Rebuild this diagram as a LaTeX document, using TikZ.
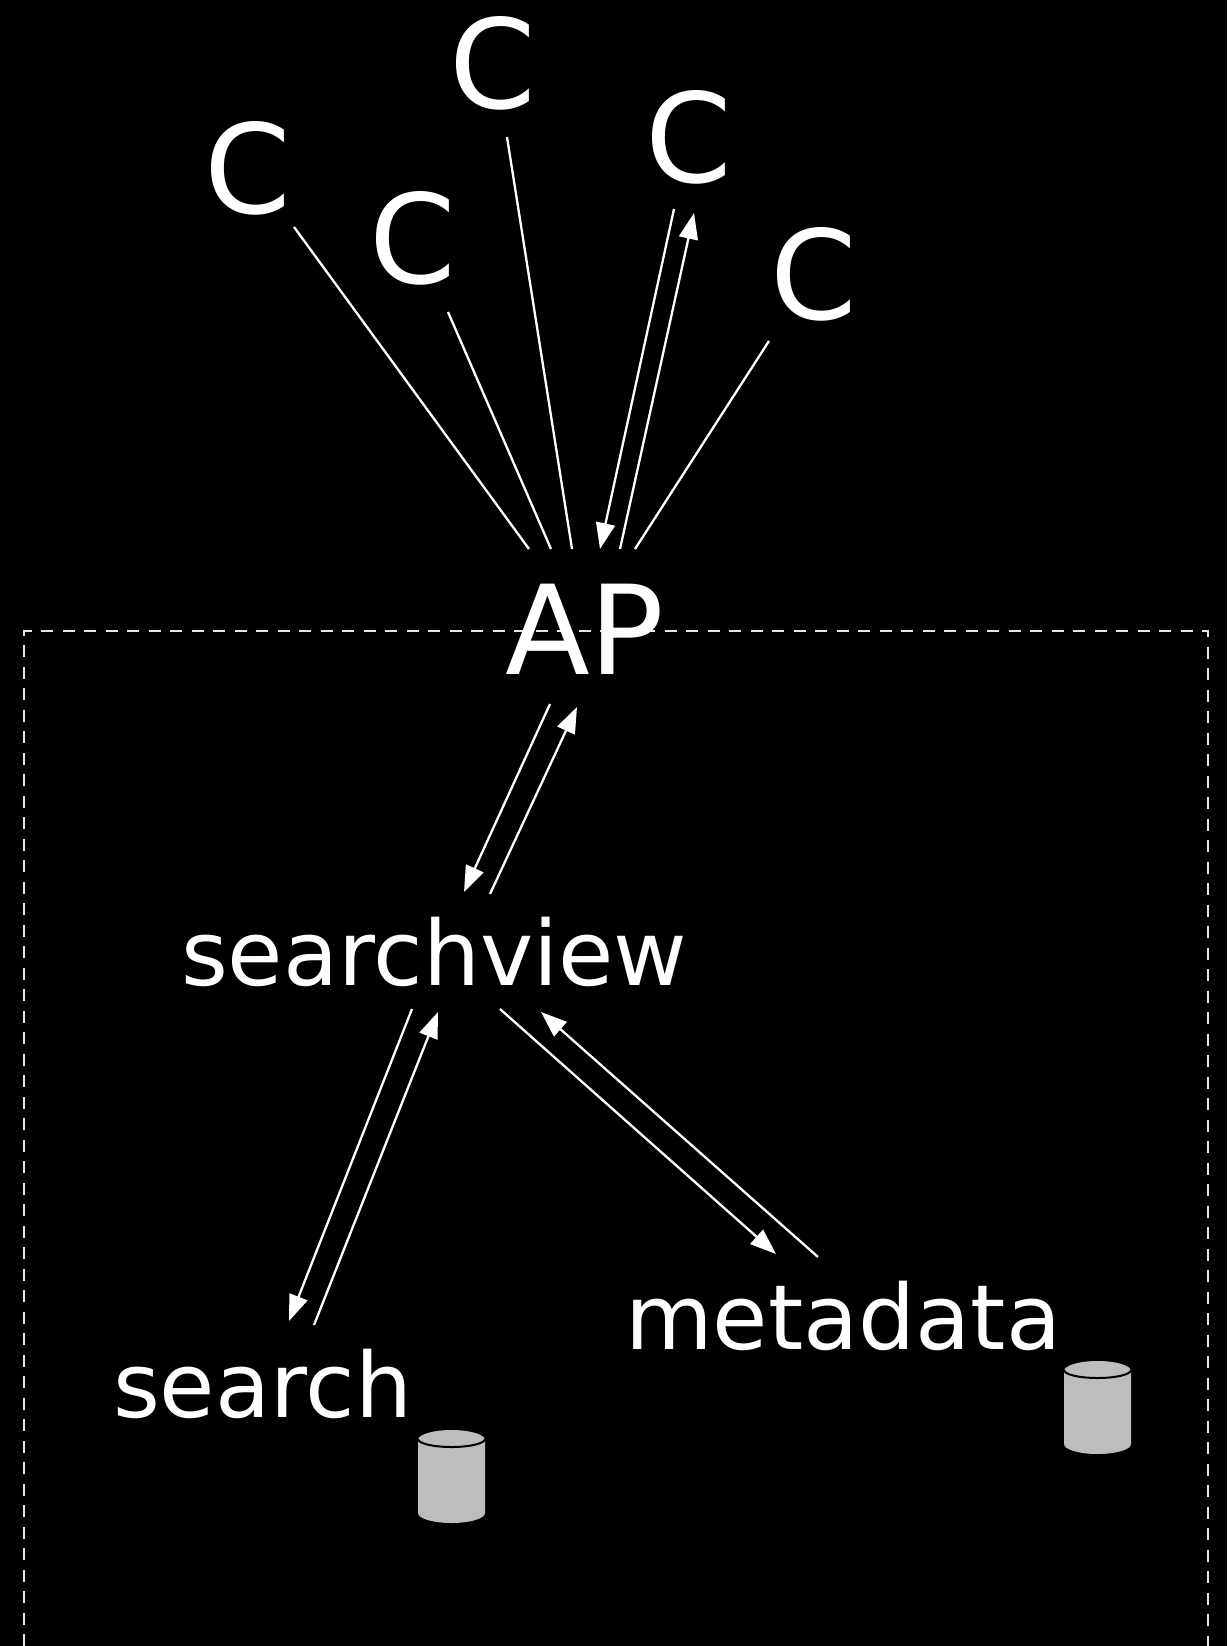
\documentclass[tikz,border=0pt]{standalone}
\usepackage{fontspec}
\setmainfont{DejaVu Sans}
\usetikzlibrary{arrows.meta}
\definecolor{dbgrey}{HTML}{BDBDBD}
\tikzset{
  x=1pt,y=-1pt,
  lbl/.style={text=white,inner sep=0pt,outer sep=0pt,anchor=base west},
  bigc/.style={lbl,font=\fontsize{124}{124}\selectfont},
  aplbl/.style={lbl,font=\fontsize{124}{124}\selectfont},
  word/.style={lbl,font=\fontsize{90}{90}\selectfont},
  wire/.style={draw=white,line width=2.3pt},
  arrowwire/.style={wire,-{Triangle[length=26pt,width=19pt,fill=white]}},
  zone/.style={draw=white!90!black,line width=1.1pt,dash pattern=on 12pt off 9.5pt},
}
\newcommand{\dbcyl}[3]{% name, left x, top y
  \coordinate (#1) at (#2,#3);
  \fill[dbgrey] (#2,#3+10) arc[start angle=180,end angle=0,x radius=33.5,y radius=-10]
     -- ++(0,73) arc[start angle=0,end angle=-180,x radius=33.5,y radius=-10] -- cycle;
  \draw[black,line width=2pt] (#2,#3+9) arc[start angle=180,end angle=360,x radius=33.5,y radius=-8];
}
\begin{document}
\begin{tikzpicture}
\useasboundingbox (0,0) rectangle (1227,1646);
\fill[black] (0,0) rectangle (1227,1646);
% boundary
\coordinate (zbl) at (24,1646);
\coordinate (ztl) at (24,631);
\coordinate (ztr) at (1208,631);
\coordinate (zbr) at (1208,1646);
\draw[zone] (zbl) -- (ztl) -- (ztr) -- (zbr);
% labels
\node[bigc] (c1) at (204,213) {C};
\node[bigc] (c2) at (369,283) {C};
\node[bigc] (c3) at (449,108) {C};
\node[bigc] (c4) at (645,182) {C};
\node[bigc] (c5) at (770,319) {C};
\node[aplbl] (ap) at (505,674) {AP};
\node[word] (sv) at (181,985) {searchview};
\node[word] (se) at (113,1417) {search};
\node[word] (md) at (625,1349) {metadata};
% connector ends
\foreach \n/\x/\y in {
  c1a/294/227, ap1/529/549, c2a/448/312, ap2/551/549, c3a/507/137, ap3/572/549,
  c4a/674/209, ap4/600/549, ap5/620/549, c4b/694/213, c5a/769/341, ap6/635/549,
  apd/550/704, svu/464/892, svv/490/894, apu/577/707,
  svd/412/1009, seu/289/1321, sev/314/1325, svw/438/1012,
  svx/500/1009, mdu/776/1254, mdv/818/1257, svy/541/1012}
  \coordinate (\n) at (\x,\y);
\draw[wire] (c1a) -- (ap1);
\draw[wire] (c2a) -- (ap2);
\draw[wire] (c3a) -- (ap3);
\draw[wire] (c5a) -- (ap6);
\draw[arrowwire] (c4a) -- (ap4);
\draw[arrowwire] (ap5) -- (c4b);
\draw[arrowwire] (apd) -- (svu);
\draw[arrowwire] (svv) -- (apu);
\draw[arrowwire] (svd) -- (seu);
\draw[arrowwire] (sev) -- (svw);
\draw[arrowwire] (svx) -- (mdu);
\draw[arrowwire] (mdv) -- (svy);
% cylinders
\dbcyl{dba}{418}{1430}
\dbcyl{dbb}{1064}{1361}
\end{tikzpicture}
\end{document}
